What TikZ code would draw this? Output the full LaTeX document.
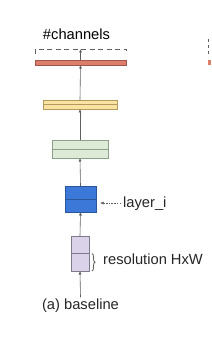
\documentclass[tikz,border=0pt]{standalone}
\usepackage{fontspec}
\setmainfont{Liberation Sans}
\usetikzlibrary{positioning, arrows.meta, decorations.pathreplacing}
\definecolor{redfill}{HTML}{DD7E6B}
\definecolor{redline}{HTML}{A0564C}
\definecolor{yelfill}{HTML}{F9E3A3}
\definecolor{yelline}{HTML}{B39A5C}
\definecolor{grnfill}{HTML}{DDEAD8}
\definecolor{grnline}{HTML}{8CA287}
\definecolor{blufill}{HTML}{3C78D8}
\definecolor{bluline}{HTML}{2B5699}
\definecolor{purfill}{HTML}{D9D2E9}
\definecolor{purline}{HTML}{7F7A8C}
\definecolor{wire}{HTML}{5F5F5F}

\begin{document}
\begin{tikzpicture}[x=1pt, y=-1pt, font=\fontsize{14.7}{17}\selectfont,
    layerbox/.style={draw, line width=0.8pt, inner sep=0pt, outer sep=0pt},
    flow/.style={-{Latex[length=3.5pt,width=3pt]}, wire, line width=0.6pt},
    label/.style={anchor=west, inner sep=0pt, text=black!85}]
    \useasboundingbox[fill=white] (0,0) rectangle (211,339);
    % Layers, widest on top
    \node[layerbox, fill=redfill, draw=redline, minimum width=91pt, minimum height=5pt] (red) at (80.5,62.5) {};
    \node[layerbox, fill=yelfill, draw=yelline, minimum width=74pt, minimum height=9pt] (yellow) at (80,104.5) {};
    \node[layerbox, fill=grnfill, draw=grnline, minimum width=56pt, minimum height=18pt] (green) at (80,149) {};
    \node[layerbox, fill=blufill, draw=bluline, minimum width=31pt, minimum height=26pt] (blue) at (80.5,199) {};
    \node[layerbox, fill=purfill, draw=purline, minimum width=18pt, minimum height=35pt] (purple) at (80,253.5) {};
    % Middle lines
    \foreach \b/\c in {yellow/yelline, green/grnline, blue/bluline, purple/purline}
        {\draw[\c, line width=0.8pt] (\b.west) -- (\b.east);}
    % Flow between layers
    \draw[flow] (yellow.north) -- (red.south);
    \draw[flow] (green.north) -- (yellow.south);
    \draw[flow] (blue.north) -- (green.south);
    \draw[flow] (purple.north) -- (blue.south);
    % Channels bracket
    \node (chtxt) at (76.5,34) {\#channels};
    \coordinate (chtop) at (80.5,49);
    \coordinate (chl) at (35,54);
    \coordinate (chr) at (126,54);
    \draw[wire, line width=0.8pt, dash pattern=on 5pt off 3.5pt] (chl) |- (chtop) -| (chr);
    \draw[flow] (red.north) -- (chtop);
    % layer_i
    \node[label] (layertxt) at (123,204) {layer\_i};
    \coordinate (layerpt) at ([xshift=-2pt, yshift=1pt]layertxt.west);
    \draw[flow, dash pattern=on 1.5pt off 1.2pt] (layerpt) -- ([xshift=4pt]layerpt -| blue.east);
    % resolution
    \node[label] (restxt) at (103,259) {resolution HxW};
    \draw[wire, line width=0.8pt, decorate, decoration={brace, amplitude=3pt}] ([xshift=3pt]purple.east) -- ([xshift=3pt]purple.south east);
    % Input and caption
    \node[inner sep=1.5pt, text=black!85] (caption) at (80.5,306) {(a) baseline};
    \draw[flow] (caption.north) -- (purple.south);
    % Next panel, cut off at the edge
    \draw[wire, line width=0.8pt, dash pattern=on 3pt off 3pt] (208,39) -- (208,57);
    \fill[redfill] (207.5,60) rectangle (211,65);
\end{tikzpicture}
\end{document}
